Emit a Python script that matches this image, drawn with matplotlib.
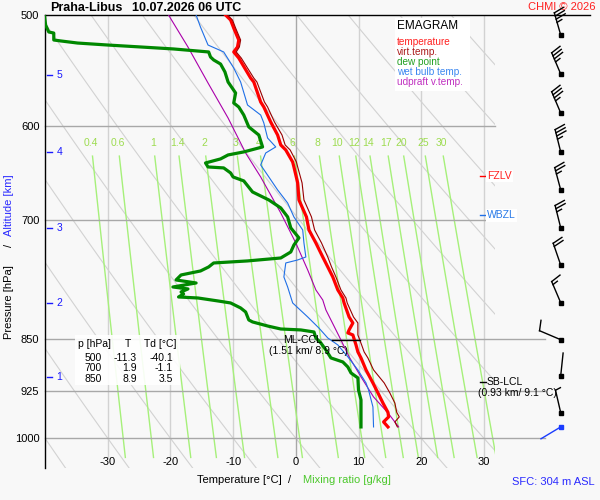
import numpy as np
import matplotlib
matplotlib.use('Agg')
import matplotlib.pyplot as plt
from matplotlib.patches import Rectangle
from matplotlib.ticker import NullLocator

plt.rcParams['font.family'] = ['Liberation Sans', 'DejaVu Sans']

# ---------------- data ----------------
# temperature & virtual temperature profile
t_p = [500.0, 504.1, 510.8, 520.9, 526.9, 531.2, 536.5, 554.4, 558.0, 576.6, 581.3, 595.8,
       608.6, 618.6, 623.7, 636.1, 641.3, 658.3, 676.9, 696.0, 711.0, 726.3, 743.2, 755.4,
       767.9, 784.4, 794.8, 801.3, 819.9, 828.0, 837.5, 841.6, 844.4, 858.3, 868.2, 876.8,
       894.2, 913.5, 928.5, 944.0, 958.6, 965.7, 973.7, 981.7]
t_c = [-11.2, -10.4, -9.9, -9.1, -9.3, -9.9, -9.1, -7.2, -6.7, -5.6, -5.1, -4.0,
       -2.9, -2.4, -1.6, -0.5, -0.3, 0.3, 0.5, 1.7, 2.1, 3.2, 4.3, 5.1,
       5.9, 6.7, 7.5, 7.7, 8.5, 9.1, 8.5, 8.3, 9.1, 9.6, 9.9, 10.4,
       11.2, 12.3, 13.1, 13.9, 14.7, 14.8, 14.0, 14.7]
tv_c = [-10.9, -10.1, -9.6, -8.8, -9.0, -9.5, -8.7, -6.7, -6.2, -5.0, -4.5, -3.4,
        -2.2, -1.7, -0.9, 0.1, 0.3, 1.0, 1.3, 2.5, 3.0, 4.1, 5.1, 5.7,
        6.4, 7.2, 8.0, 8.2, 9.2, 9.9, 9.9, 9.9, 9.9, 10.5, 10.9, 11.5,
        12.4, 14.1, 15.0, 15.8, 16.1, 16.5, 15.8, 16.2]

# dew point
td_p = [500.0, 508.3, 514.1, 515.0, 520.9, 521.7, 523.5, 525.2, 526.9, 528.6, 531.2, 535.6,
        538.2, 541.8, 548.9, 558.0, 568.1, 577.5, 581.3, 589.0, 600.6, 608.6, 620.6, 625.7,
        628.8, 632.9, 637.1, 641.3, 642.3, 647.6, 651.9, 656.1, 668.1, 676.9, 685.8, 696.0,
        708.6, 720.3, 728.7, 737.1, 744.4, 748.0, 750.5, 755.4, 760.4, 765.4, 771.7, 775.5,
        780.6, 783.1, 787.0, 789.6, 793.5, 794.8, 798.7, 801.3, 807.9, 813.2, 823.9, 826.6,
        832.1, 836.2, 837.5, 840.3, 848.6, 855.6, 865.4, 876.8, 882.6, 889.9, 898.6, 906.0,
        924.0, 939.2, 959.4, 981.7]
td_c = [-40.1, -39.9, -39.4, -38.6, -38.6, -37.5, -34.8, -30.0, -24.7, -19.5, -13.9, -13.6,
        -13.1, -12.0, -11.3, -10.8, -9.6, -9.9, -9.1, -8.3, -7.5, -5.9, -5.3, -8.3,
        -10.8, -12.0, -14.4, -14.0, -11.5, -10.4, -10.0, -8.3, -6.9, -4.3, -2.4, -1.3,
        -0.8, 0.5, -0.3, -0.8, -2.4, -7.7, -13.1, -13.9, -15.2, -18.3, -19.1, -15.9,
        -19.6, -17.2, -18.3, -17.9, -18.7, -15.6, -12.4, -10.4, -8.8, -8.0, -7.5, -6.9,
        -4.5, -2.4, 0.8, 2.9, 3.2, 4.0, 4.8, 5.6, 7.5, 8.3, 8.8, 9.9,
        10.0, 10.4, 10.4, 10.4]

# wet bulb temperature
tw_p = [500.0, 510.0, 525.2, 531.2, 545.3, 558.0, 579.4, 589.0, 596.7, 611.6, 620.6, 626.8,
        639.2, 651.9, 665.9, 680.3, 696.0, 711.0, 726.3, 743.2, 746.8, 750.5, 767.9, 780.6,
        793.5, 801.3, 819.9, 835.0, 848.6, 858.3, 875.2, 894.2, 913.5, 924.0, 950.0, 981.7]
tw_c = [-15.9, -15.2, -14.0, -11.5, -9.9, -8.8, -7.7, -5.6, -5.1, -4.5, -3.2, -4.8,
        -5.6, -4.3, -2.9, -1.3, -0.3, 1.1, 1.3, 1.6, 0.3, -1.6, -1.9, -1.3,
        -0.8, -0.5, 1.9, 3.7, 5.1, 6.7, 8.3, 9.9, 11.2, 11.6, 12.3, 12.4]

# updraft virtual temperature
up_p = [500.0, 526.9, 558.9, 591.9, 626.8, 651.9, 691.5, 726.3, 759.2, 784.4, 797.4, 810.5,
        837.5, 851.4, 875.2, 904.5, 934.6, 959.4, 981.7]
up_c = [-20.3, -17.2, -14.0, -10.8, -8.0, -5.6, -2.4, 0.0, 1.9, 3.2, 4.3, 4.8,
        6.4, 7.2, 8.5, 10.4, 12.4, 14.7, 16.4]

mix_ratio = [0.4, 0.6, 1, 1.4, 2, 3, 4, 6, 8, 10, 12, 14, 17, 20, 25, 30]
mix_labels = ['0.4', '0.6', '1', '1.4', '2', '3', '4', '6', '8', '10', '12', '14', '17', '20', '25', '30']
p_levels = [500, 600, 700, 850, 925, 1000]
t_ticks = [-30, -20, -10, 0, 10, 20, 30]
theta_c = list(range(-40, 101, 10))

alt_km = [1, 2, 3, 4, 5]
alt_p = [904.6, 801.9, 708.5, 625.7, 551.6]

wind_p = [516.6, 550.7, 587.0, 625.7, 665.8, 708.5, 753.0, 801.0, 851.0, 903.0, 959.0, 981.7]
wind_dir = [344, 337, 337, 346, 345, 346, 341, 337, 293, 6, 347, 239]
wind_kt = [35, 35, 35, 35, 25, 25, 20, 15, 10, 3, 5, 3]

table_p = [500, 700, 850]
table_t = [-11.3, 1.9, 8.9]
table_td = [-40.1, -1.1, 3.5]

fzlv_p = 651
wbzl_p = 694
sb_lcl_p = 912
ml_ccl_p = 851

# ---------------- figure ----------------
BG = '#f8f8f8'
fig = plt.figure(figsize=(6, 5), dpi=100, facecolor=BG)
W, H = 600.0, 500.0
def fx(px):
    return px / W
def fy(py):
    return 1 - py / H

ax = fig.add_axes([fx(45), fy(468), 450 / W, 453 / H])
ax.set_facecolor(BG)
ax.set_yscale('log')
ax.set_ylim(1050, 500)
ax.set_xlim(-40, 31.77)
for s in ['top', 'right', 'bottom']:
    ax.spines[s].set_visible(False)
ax.spines['left'].set_color('black')
ax.spines['left'].set_linewidth(1.0)
ax.yaxis.set_minor_locator(NullLocator())
ax.set_yticks(p_levels)
ax.set_yticklabels([str(p) for p in p_levels], fontsize=8)
ax.tick_params(axis='y', length=0, pad=4)
ax.set_xticks([])

ytr = ax.get_yaxis_transform()

# dry adiabats
pp = np.geomspace(500, 1050, 120)
for th in theta_c:
    tt = (th + 273.15) * (pp / 1000.0) ** 0.2857 - 273.15
    ax.plot(tt, pp, color='#d2d2d2', lw=0.8, zorder=1)

# isotherms
for t in t_ticks:
    ax.plot([t, t], [500, 1032], color='#a8a8a8' if t == 0 else '#d2d2d2',
            lw=1.0, zorder=1.2)

# mixing ratio lines
def mr_td(w, p):
    e = w * p / (622.0 + w)
    l = np.log(e / 6.112)
    return 243.5 * l / (17.67 - l)
pm = np.geomspace(630, 1032, 60)
for w, lab in zip(mix_ratio, mix_labels):
    ax.plot(mr_td(w, pm), pm, color='#a6f07a', lw=1.0, zorder=1.3)
    ax.text(mr_td(w, 617.0), 617.0, lab, color='#9ddc50', fontsize=7.5,
            ha='center', va='center', zorder=2)

# isobars
for p in [600, 700]:
    ax.plot([0, 1], [p, p], transform=ytr, color='#a8a8a8', lw=1.0, zorder=1.5, clip_on=False)
for p in [850, 925, 1000]:
    ax.plot([0, 1.111], [p, p], transform=ytr, color='#a8a8a8', lw=1.0, zorder=1.5, clip_on=False)
ax.plot([0, 1.211], [500, 500], transform=ytr, color='black', lw=1.0, zorder=3, clip_on=False)

# x tick labels
for t in t_ticks:
    ax.text(t, 1040.5, str(t), fontsize=8, ha='center', va='center', clip_on=False)

# profiles
ax.plot(up_c, up_p, color='#aa00aa', lw=0.8, zorder=4)
ax.plot(tw_c, tw_p, color='#1f6fe6', lw=0.8, zorder=4)
ax.plot(td_c, td_p, color='#008800', lw=2.3, zorder=5)
ax.plot(t_c, t_p, color='#ff0000', lw=2.3, zorder=5)
ax.plot(tv_c, t_p, color='#990000', lw=0.8, zorder=6)

# altitude ticks
for km, p in zip(alt_km, alt_p):
    ax.plot([0.004, 0.016], [p, p], transform=ytr, color='#1a1aff', lw=1.0, zorder=6)
    ax.text(0.026, p, str(km), transform=ytr, color='#1a1aff', fontsize=7.5,
            ha='left', va='center', zorder=6)

# levels
ax.plot([29.4, 30.3], [fzlv_p, fzlv_p], color='#ff0000', lw=1.0, clip_on=False, zorder=6)
ax.text(30.5, fzlv_p, 'FZLV', color='#ff2020', fontsize=7.5, ha='left', va='center',
        clip_on=False, zorder=6,
        bbox=dict(facecolor='white', edgecolor='none', pad=1.0))
ax.plot([29.4, 30.3], [wbzl_p, wbzl_p], color='#1f6fe6', lw=1.0, clip_on=False, zorder=6)
ax.text(30.5, wbzl_p, 'WBZL', color='#2a7be8', fontsize=7.5, ha='left', va='center',
        clip_on=False, zorder=6,
        bbox=dict(facecolor='white', edgecolor='none', pad=1.0))
ax.plot([29.4, 30.3], [sb_lcl_p, sb_lcl_p], color='black', lw=1.0, clip_on=False, zorder=6)
ax.text(30.5, sb_lcl_p, 'SB-LCL', color='black', fontsize=7.5, ha='left', va='center',
        clip_on=False, zorder=6)
ax.text(29.0, 929.0, '(0.93 km/ 9.1 °C)', color='black', fontsize=7.5, ha='left',
        va='center', clip_on=False, zorder=6)
ax.plot([5.8, 10.3], [ml_ccl_p, ml_ccl_p], color='black', lw=1.0, zorder=6)
ax.text(4.2, ml_ccl_p, 'ML-CCL', color='black', fontsize=7.5, ha='right', va='center', zorder=6)
ax.text(2.1, 867.0, '(1.51 km/ 8.9 °C)', color='black', fontsize=7.5, ha='center',
        va='center', zorder=6)

# ---------------- overlay for texts and barbs ----------------
ov = fig.add_axes([0, 0, 1, 1], zorder=10)
ov.set_xlim(0, W)
ov.set_ylim(0, H)
ov.axis('off')
ov.patch.set_alpha(0)

# title
fig.text(fx(50), fy(8), 'Praha-Libus', fontsize=9, fontweight='bold', ha='left', va='center')
fig.text(fx(132), fy(8), '10.07.2026 06 UTC', fontsize=9, fontweight='bold', ha='left', va='center')
fig.text(fx(596), fy(7), 'CHMI © 2026', fontsize=8, color='#ff2020', ha='right', va='center')

# legend box
ov.add_patch(Rectangle((395, H - 91), 75, 73, facecolor='white', edgecolor='none', zorder=1))
fig.text(fx(397), fy(26), 'EMAGRAM', fontsize=8.5, ha='left', va='center', zorder=11)
leg_items = [('temperature', '#ff2020'), ('virt.temp.', '#aa1a1a'), ('dew point', '#22a022'),
             ('wet bulb temp.', '#3a86f0'), ('udpraft v.temp.', '#c030c0')]
for i, (lab, c) in enumerate(leg_items):
    fig.text(fx(397), fy(42 + 10 * i), lab, fontsize=7.2, color=c, ha='left', va='center', zorder=11)

# table
ov.add_patch(Rectangle((75, H - 385), 105, 50, facecolor='white', edgecolor='none', alpha=0.9, zorder=1))
fig.text(fx(78), fy(344), 'p [hPa]', fontsize=7.5, ha='left', va='center', zorder=11)
fig.text(fx(127.5), fy(344), 'T', fontsize=7.5, ha='center', va='center', zorder=11)
fig.text(fx(144), fy(344), 'Td [°C]', fontsize=7.5, ha='left', va='center', zorder=11)
for i, (p, t, td) in enumerate(zip(table_p, table_t, table_td)):
    yy = fy(358 + 10.3 * i)
    fig.text(fx(102), yy, str(p), fontsize=7.5, ha='right', va='center', zorder=11)
    fig.text(fx(137), yy, f'{t:.1f}', fontsize=7.5, ha='right', va='center', zorder=11)
    fig.text(fx(173), yy, f'{td:.1f}', fontsize=7.5, ha='right', va='center', zorder=11)

# axis labels
fig.text(fx(197), fy(480), 'Temperature [°C]  /', fontsize=8, ha='left', va='center')
fig.text(fx(303), fy(480), 'Mixing ratio [g/kg]', fontsize=8, color='#4cc82c', ha='left', va='center')
fig.text(fx(9), fy(302), 'Pressure [hPa]', fontsize=8, rotation=90, ha='center', va='center')
fig.text(fx(9), fy(245), '/', fontsize=8, rotation=90, ha='center', va='center')
fig.text(fx(9), fy(205), 'Altitude [km]', fontsize=8, rotation=90, ha='center', va='center',
         color='#2a2aff')
fig.text(fx(512), fy(482), 'SFC: 304 m ASL', fontsize=8, color='#2a2aff', ha='left', va='center')

# wind barbs (drawn by hand from direction and speed)
BX = 560.7
L_STAFF = 23.0
def draw_barb(p, ddeg, spd, color):
    _, yb = ax.transData.transform((0, p))
    a = np.radians(ddeg)
    s = np.array([np.sin(a), np.cos(a)])
    perp = np.array([s[1], -s[0]])
    ang = np.radians(15)
    f = np.cos(ang) * perp + np.sin(ang) * s
    base = np.array([BX, yb])
    tip = base + L_STAFF * s
    ov.plot([base[0], tip[0]], [base[1], tip[1]], color=color, lw=1.0, zorder=5)
    ov.plot([base[0]], [base[1]], marker='s', ms=3.2, color=color, zorder=6)
    n_full = int(spd // 10)
    half = (spd % 10) >= 5
    k = 0
    for _ in range(n_full):
        q = tip - 3.3 * k * s
        e = q + 10.5 * f
        ov.plot([q[0], e[0]], [q[1], e[1]], color=color, lw=1.0, zorder=5)
        k += 1
    if half:
        if k == 0:
            k = 0
        q = tip - 3.3 * k * s
        e = q + 5.5 * f
        ov.plot([q[0], e[0]], [q[1], e[1]], color=color, lw=1.0, zorder=5)

for i, (p, d, v) in enumerate(zip(wind_p, wind_dir, wind_kt)):
    col = '#1a3cff' if i == len(wind_p) - 1 else 'black'
    draw_barb(p, d, v, col)

fig.savefig('out.png', dpi=100, facecolor=BG)
